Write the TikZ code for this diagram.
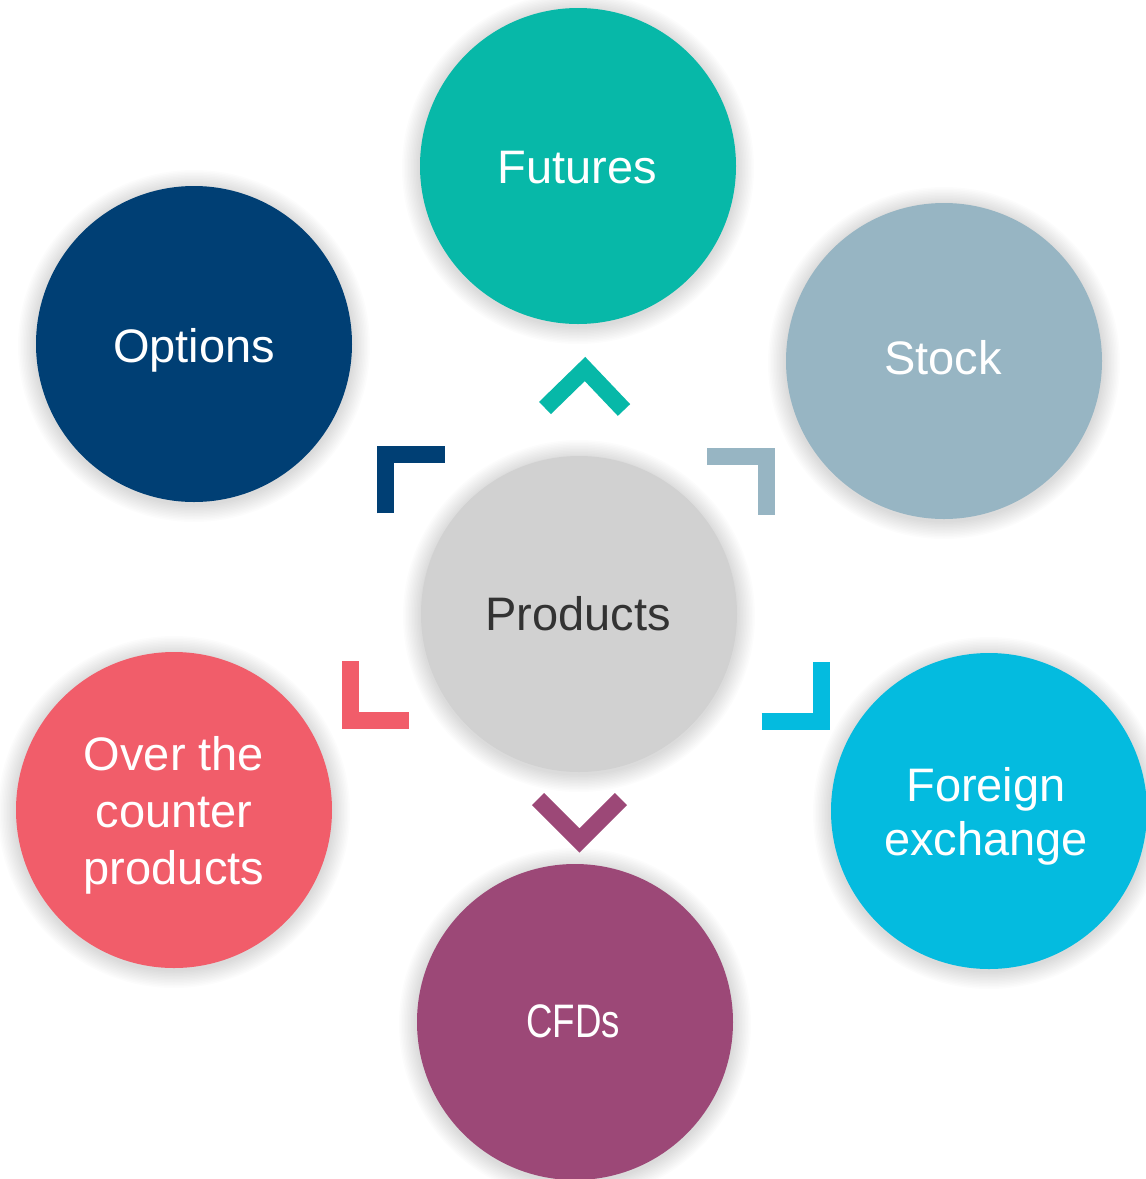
\documentclass[tikz,border=0pt]{standalone}
\usepackage{fontspec}
\usepackage{graphicx}
\setmainfont{Liberation Sans}
\definecolor{cFut}{HTML}{07B8A8}
\definecolor{cOpt}{HTML}{003F74}
\definecolor{cStk}{HTML}{97B5C3}
\definecolor{cPro}{HTML}{D1D1D1}
\definecolor{cOtc}{HTML}{F15D6A}
\definecolor{cFx}{HTML}{04BBDF}
\definecolor{cCfd}{HTML}{9C4877}
\definecolor{cTxt}{HTML}{333333}
\tikzset{
  circ/.style={circle, inner sep=0pt, minimum size=316pt, draw=none},
  lbl/.style={anchor=base, inner sep=0pt, text=white, align=center,
    font=\fontsize{47}{57}\selectfont},
  chev/.style={line width=17pt, line join=miter, line cap=butt}
}
\begin{document}
\begin{tikzpicture}[x=1pt,y=-1pt]
\useasboundingbox (0,0) rectangle (1146,1179);
\fill[white] (0,0) rectangle (1146,1179);
% soft shadows
\foreach \cx/\cy in {578/166,194/344,944/361,579/614,174/810,989/811,575/1022}{
  \foreach \i in {1,...,12}{
    \fill[black, opacity=0.012] (\cx,\cy+2) circle ({158+1.5*\i});
  }
}
% circles
\node[circ, fill=cFut] (futures) at (578,166) {};
\node[circ, fill=cOpt] (options) at (194,344) {};
\node[circ, fill=cStk] (stock) at (944,361) {};
\node[circ, fill=cPro] (products) at (579,614) {};
\node[circ, fill=cOtc] (otc) at (174,810) {};
\node[circ, fill=cFx] (fx) at (989,811) {};
\node[circ, fill=cCfd] (cfds) at (575,1022) {};
% labels
\node[lbl] (tfut) at (577,183) {Futures};
\node[lbl] (topt) at (194,362) {Options};
\node[lbl] (tstk) at (943,374) {Stock};
\node[lbl, text=cTxt] (tpro) at (578,630) {Products};
\node[lbl] (totc) at (174,884) {Over the\\counter\\products};
\node[lbl, font=\fontsize{47}{54}\selectfont] (tfx) at (986,855) {Foreign\\exchange};
\node[lbl] (tcfd) at (573,1037) {\scalebox{0.78}[1]{CFDs}};
% chevrons
\draw[chev, cFut] (545,408) -- (585,369) -- (624,410);
\draw[chev, cOpt] (385.5,513.3) -- (385.5,454.5) -- (445,454.5);
\draw[chev, cStk] (707.3,456) -- (766.5,456) -- (766.5,515);
\draw[chev, cOtc] (350,661) -- (350,720.7) -- (409.3,720.7);
\draw[chev, cFx] (761.7,721) -- (821,721) -- (821,661.7);
\draw[chev, cCfd] (538,799) -- (579.5,840.5) -- (621,799);
\end{tikzpicture}
\end{document}
